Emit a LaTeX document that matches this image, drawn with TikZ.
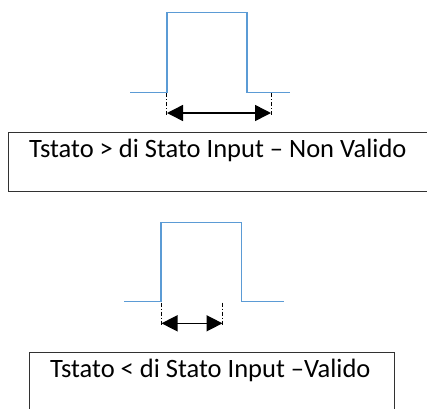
\documentclass[tikz,border=0pt]{standalone}
\usepackage{fontspec}
\setmainfont{Carlito}
\usetikzlibrary{arrows.meta}
\definecolor{pulseblue}{RGB}{91,155,213}
\definecolor{boxgray}{RGB}{50,50,50}
\tikzset{
  pulse/.style={draw=pulseblue, line width=1.2pt},
  marker/.style={draw=black, line width=0.8pt, dash pattern=on 4pt off 2pt on 1pt off 2pt},
  dimarrow/.style={draw=black, line width=1.5pt, {Triangle[length=16pt,width=16pt]}-{Triangle[length=16pt,width=16pt]}},
  boxline/.style={draw=boxgray, line width=1pt},
  label/.style={font=\fontsize{26.5}{32}\selectfont, inner sep=0pt, anchor=base west}
}
\begin{document}
\begin{tikzpicture}[x=1pt,y=-1pt]
\useasboundingbox (0,0) rectangle (427,408);
% top pulse
\draw[pulse] (130,92.5) -- (167,92.5) -- (167,12.5) -- (247,12.5) -- (247,92.5) -- (290,92.5);
\coordinate (t1a) at (166.7,93); \coordinate (t1b) at (166.7,116);
\coordinate (t2a) at (271,93); \coordinate (t2b) at (271,116);
\draw[marker] (t1a) -- (t1b);
\draw[marker] (t2a) -- (t2b);
\coordinate (ta) at (167,113); \coordinate (tb) at (271,113);
\draw[dimarrow] (ta) -- (tb);
% top box
\draw[boxline] (430,132) -- (8,132) -- (8,191) -- (430,191);
\node[label] (l1) at (29,157) {Tstato > di Stato Input – Non Valido};
% bottom pulse
\draw[pulse] (124,301.7) -- (161,301.7) -- (161,222.3) -- (241.7,222.3) -- (241.7,301.7) -- (284,301.7);
\coordinate (b1a) at (161,302.5); \coordinate (b1b) at (161,326);
\coordinate (b2a) at (222.3,302.5); \coordinate (b2b) at (222.3,326);
\draw[marker] (b1a) -- (b1b);
\draw[marker] (b2a) -- (b2b);
\coordinate (ba) at (161.5,323.3); \coordinate (bb) at (222.5,323.3);
\draw[dimarrow] (ba) -- (bb);
% bottom box
\draw[boxline] (29.3,412) -- (29.3,352.7) -- (394.3,352.7) -- (394.3,412);
\node[label] (l2) at (50,377.7) {Tstato < di Stato Input –Valido};
\end{tikzpicture}
\end{document}
